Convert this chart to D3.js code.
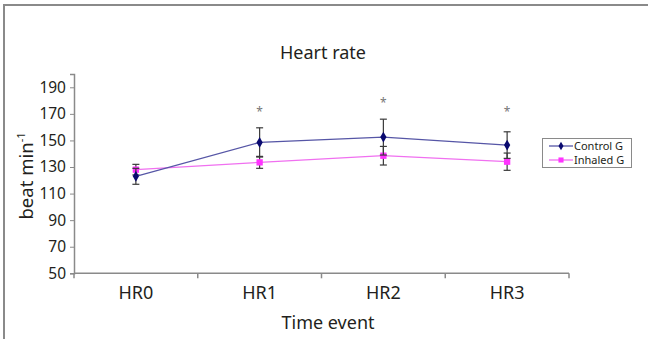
<!DOCTYPE html>
<html><head><meta charset="utf-8">
<script src="https://cdn.jsdelivr.net/npm/d3@7"></script>
<style>
html,body{margin:0;padding:0;background:#fff;}
svg{display:block;}
text{font-family:"Noto Sans",sans-serif;fill:#231f20;}
</style></head>
<body>
<svg id="c" width="648" height="339"></svg>
<script>
const categories = ["HR0","HR1","HR2","HR3"];
const controlMean = [123, 148.5, 152.5, 146.5];
const controlErr  = [6, 11, 13.5, 10];
const inhaledMean = [128, 133.5, 138.5, 134];
const inhaledErr  = [4, 4.5, 7, 6.5];
const starValues  = [null, 173, 180, 173];
const yTicks = [50,70,90,110,130,150,170,190];
const seriesNames = ["Control G","Inhaled G"];

const svg = d3.select("#c");
// frame lines (top & left)
svg.append("line").attr("x1",4).attr("x2",648).attr("y1",5).attr("y2",5).attr("stroke","#8a8a8a").attr("stroke-width",2);
svg.append("line").attr("x1",4).attr("x2",4).attr("y1",4).attr("y2",339).attr("stroke","#8a8a8a").attr("stroke-width",2);

const x0 = 74, x1 = 569, yTop = 74, yBot = 273.3;
const x = d3.scaleBand().domain(categories).range([x0,x1]);
const y = d3.scaleLinear().domain([50,200]).range([yBot,yTop]);
const cx = d => x(d)+x.bandwidth()/2;

// y axis
const yAxis = svg.append("g").attr("transform",`translate(${x0},0)`)
  .call(d3.axisLeft(y).tickValues(yTicks).tickSize(4).tickPadding(4).tickFormat(d3.format("d")));
yAxis.select(".domain").attr("stroke","#8a8a8a").attr("stroke-width",1.5);
yAxis.selectAll(".tick line").attr("stroke","#8a8a8a");
yAxis.selectAll("text").attr("font-size",15.5).attr("fill","#231f20");

// x axis: ticks at band boundaries
const xg = svg.append("g").attr("transform",`translate(0,${yBot})`);
xg.append("line").attr("x1",x0).attr("x2",x1).attr("stroke","#8a8a8a").attr("stroke-width",1.5);
const bounds = categories.map(c=>x(c)).concat([x1]);
xg.selectAll("line.tk").data(bounds).join("line").attr("class","tk")
  .attr("x1",d=>d).attr("x2",d=>d).attr("y1",0).attr("y2",5).attr("stroke","#8a8a8a").attr("stroke-width",1.5);
xg.selectAll("text").data(categories).join("text")
  .attr("x",d=>cx(d)).attr("y",26).attr("text-anchor","middle")
  .attr("font-size",18).text(d=>d);

// title & labels
svg.append("text").attr("x",323).attr("y",59).attr("text-anchor","middle").attr("font-size",18).text("Heart rate");
svg.append("text").attr("x",328).attr("y",329).attr("text-anchor","middle").attr("font-size",18).text("Time event");
const yl = svg.append("text").attr("transform","translate(33,176) rotate(-90)").attr("text-anchor","middle").attr("font-size",18.5);
yl.append("tspan").text("beat min");
yl.append("tspan").attr("font-size",11).attr("dy",-8).text("-1");

function drawSeries(means, errs, lineColor, markColor, shape){
  const g = svg.append("g");
  categories.forEach((c,i)=>{
    const X = cx(c);
    const eg = g.append("g").attr("stroke","#3a3a3a").attr("stroke-width",1.2);
    eg.append("line").attr("x1",X).attr("x2",X).attr("y1",y(means[i]+errs[i])).attr("y2",y(means[i]-errs[i]));
    [means[i]+errs[i], means[i]-errs[i]].forEach(v=>{
      eg.append("line").attr("x1",X-3.5).attr("x2",X+3.5).attr("y1",y(v)).attr("y2",y(v));
    });
  });
  const line = d3.line().x((d,i)=>cx(categories[i])).y(d=>y(d));
  g.append("path").attr("d",line(means)).attr("fill","none").attr("stroke",lineColor).attr("stroke-width",1.3);
  const sym = d3.symbol().type(shape==="diamond"?d3.symbolDiamond:d3.symbolSquare).size(shape==="diamond"?34:40);
  g.selectAll("path.m").data(means).join("path").attr("class","m")
    .attr("transform",(d,i)=>`translate(${cx(categories[i])},${y(d)})`)
    .attr("d",sym).attr("fill",markColor);
}
drawSeries(inhaledMean, inhaledErr, "#f070f0", "#ff33ff", "square");
drawSeries(controlMean, controlErr, "#5656a6", "#0a0a70", "diamond");

// significance stars
categories.forEach((c,i)=>{
  if(starValues[i]===null) return;
  svg.append("text").attr("class","star").attr("x",cx(c)).attr("y",y(starValues[i])+6)
    .attr("text-anchor","middle").attr("font-size",12).attr("fill","#777").style("fill","#777").text("*");
});

// legend
const lg = svg.append("g");
lg.append("rect").attr("x",542.5).attr("y",138.5).attr("width",89).attr("height",29).attr("fill","#fff").attr("stroke","#8a8a8a").attr("stroke-width",1);
const legItems = [
  {name:seriesNames[0], line:"#5656a6", mark:"#0a0a70", shape:d3.symbolDiamond, size:22, yy:146},
  {name:seriesNames[1], line:"#f070f0", mark:"#ff33ff", shape:d3.symbolSquare, size:26, yy:160}
];
legItems.forEach(it=>{
  lg.append("line").attr("x1",549).attr("x2",573).attr("y1",it.yy).attr("y2",it.yy).attr("stroke",it.line).attr("stroke-width",1.3);
  lg.append("path").attr("transform",`translate(561,${it.yy})`).attr("d",d3.symbol().type(it.shape).size(it.size)).attr("fill",it.mark);
  lg.append("text").attr("x",574).attr("y",it.yy+4).attr("font-size",11).text(it.name);
});
</script>
</body></html>
